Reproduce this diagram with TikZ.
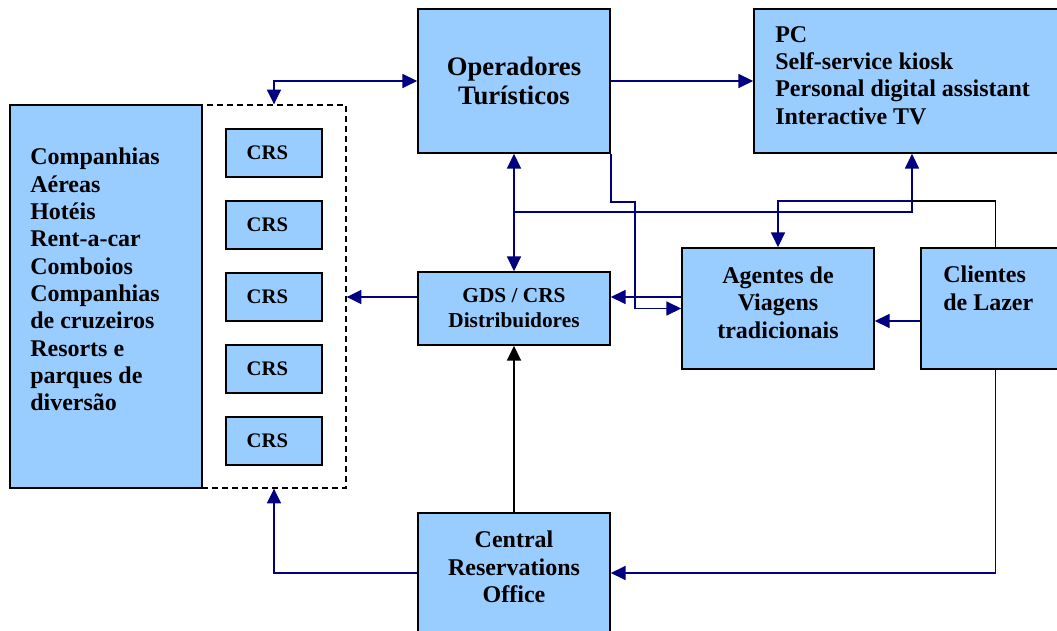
\documentclass[tikz,border=0pt]{standalone}
\usepackage{fontspec}
\setmainfont{Liberation Serif}
\usetikzlibrary{arrows.meta}
\definecolor{boxfill}{HTML}{99CCFF}
\definecolor{linkblue}{HTML}{000080}

\begin{document}
\begin{tikzpicture}[x=0.75pt, y=-0.75pt,
  >={Triangle[length=11pt,width=10.5pt]},
  box/.style={draw=black, line width=1.3pt, fill=boxfill, inner sep=0pt,
    align=center, font=\bfseries\fontsize{18}{20.5}\selectfont},
  crsbox/.style={box, minimum width=72pt, minimum height=36pt,
    font=\bfseries\fontsize{15.5}{18}\selectfont},
  txt/.style={inner sep=0pt, align=left, font=\bfseries\fontsize{18}{20.5}\selectfont},
  ctxt/.style={txt, align=center},
  group/.style={draw=black, line width=1pt, dash pattern=on 4.5pt off 3pt, inner sep=0pt},
  link/.style={draw=linkblue, line width=1.2pt},
  plain/.style={draw=black, line width=1.2pt},
]
\useasboundingbox (0,0) rectangle (1057,631);
\clip (0,0) rectangle (1057,631);

% suppliers and their reservation systems
\node[group, minimum width=108pt, minimum height=287.25pt] (crsgroup) at (274,296.5) {};
\node[box, minimum width=144pt, minimum height=287.25pt] (suppliers) at (106,296.5) {};
\node[txt, anchor=north west] (suppliers-text) at (30,148)
  {Companhias\\Aéreas\\Hotéis\\Rent-a-car\\Comboios\\Companhias\\de cruzeiros\\Resorts e\\parques de\\diversão};
\foreach \i/\y in {1/153,2/225,3/297,4/369,5/441}
  \node[crsbox] (crs\i) at (274,\y) {\hspace*{-10pt}CRS};

% intermediaries and channels
\node[box, minimum width=144pt, minimum height=108pt,
  font=\bfseries\fontsize{20}{21.75}\selectfont] (oper) at (514,81) {Operadores\\Turísticos};
\node[box, minimum width=237pt, minimum height=108pt] (pc) at (912,81) {};
\node[txt, anchor=north west] (pc-text) at (775,26)
  {PC\\Self-service kiosk\\Personal digital assistant\\Interactive TV};
\node[box, minimum width=144pt, minimum height=54.75pt,
  font=\bfseries\fontsize{16}{18.75}\selectfont] (gds) at (514,308.5) {GDS / CRS\\Distribuidores};
\node[box, minimum width=144pt, minimum height=90.75pt] (agents) at (778,308.5) {};
\node[ctxt] (agents-text) at (778,302.5) {Agentes de\\Viagens\\tradicionais};
\node[box, minimum width=111.75pt, minimum height=90.75pt] (clients) at (995.5,308.5) {};
\node[txt, anchor=north west] (clients-text) at (943,266) {Clientes\\de Lazer};
\node[box, minimum width=144pt, minimum height=99pt] (central) at (514,579) {};
\node[ctxt] (central-text) at (514,567) {Central\\Reservations\\Office};

% connectors
\draw[link, <->] (oper.west) -| (crsgroup.north);
\draw[link, ->] (oper.east) -- (pc.west);
\draw[link, <->] (oper.south) -- (gds.north);
\draw[link, ->] (gds.west |- crs3) -- (crsgroup.east |- crs3);
\draw[link, ->] (agents.west |- crs3) -- (gds.east |- crs3);
\draw[link, ->] (oper.south east) -- ++(0,48) -- ++(24,0) |- (agents.west);
\draw[link, ->] (oper.south |- 0,212) -| (pc.south);
\coordinate (split) at (pc.south |- 0,201);
\draw[plain] (clients.north) |- (split);
\draw[link, ->] (split) -| (agents.north);
\draw[link, ->] (clients.west |- 0,321) -- (agents.east |- 0,321);
\draw[plain, ->] (central.north) -- (gds.south);
\draw[link, ->] (central.west |- 0,573) -| (crsgroup.south);
\draw[link, ->] (clients.south) |- (central.east |- 0,573);
\end{tikzpicture}
\end{document}
